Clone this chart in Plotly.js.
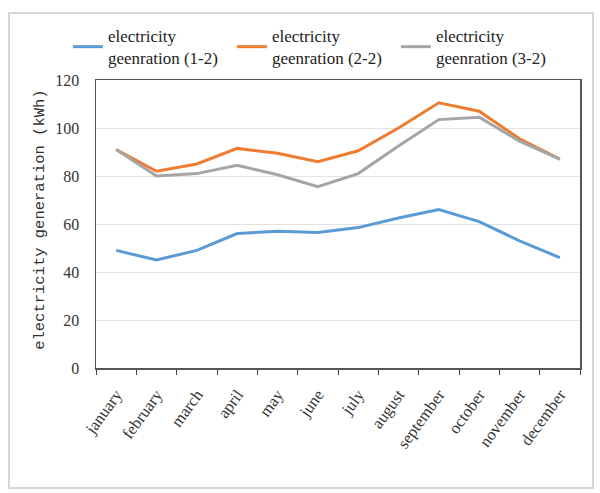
<!DOCTYPE html>
<html>
<head>
<meta charset="utf-8">
<script src="https://cdn.plot.ly/plotly-3.0.1.min.js"></script>
<style>
html,body{margin:0;padding:0;background:#fff;}
#wrap{position:relative;width:600px;height:493px;}
#chart{width:600px;height:493px;}
#frame{position:absolute;left:8px;top:12px;width:582px;height:473px;border:2px solid #d6d6d6;pointer-events:none;}
</style>
</head>
<body>
<div id="wrap"><div id="chart"></div><div id="frame"></div></div>
<script>
const months = ["january","february","march","april","may","june","july","august","september","october","november","december"];
const gen12 = [49, 45, 49, 56, 57, 56.5, 58.5, 62.5, 66, 61, 53, 46];
const gen22 = [91, 82, 85, 91.5, 89.5, 86, 90.5, 100, 110.5, 107, 95.5, 87];
const gen32 = [91, 80, 81, 84.5, 80.5, 75.5, 81, 92.5, 103.5, 104.5, 94.5, 87];
const seriesNames = ["electricity<br>geenration (1-2)", "electricity<br>geenration (2-2)", "electricity<br>geenration (3-2)"];
const yTitle = "electricity generation (kWh)";
const yTicks = [0, 20, 40, 60, 80, 100, 120];

const colors = ["#5B9BD5", "#ED7D31", "#A5A5A5"];
const serif = "Liberation Serif";

const traces = [gen12, gen22, gen32].map((v, i) => ({
  x: months, y: v, type: "scatter", mode: "lines", name: seriesNames[i],
  line: {color: colors[i], width: 3}
}));

const layout = {
  width: 600, height: 493,
  margin: {l: 96, r: 20, t: 80, b: 125},
  paper_bgcolor: "#fff", plot_bgcolor: "#fff",
  font: {family: serif},
  showlegend: true,
  legend: {orientation: "h", x: -0.058, y: 1.215, xanchor: "left", yanchor: "top",
    font: {family: serif, size: 17, color: "#222"}, valign: "middle",
    itemwidth: 30, tracegroupgap: 0, entrywidth: 119, bgcolor: "rgba(0,0,0,0)"},
  xaxis: {type: "category", range: [-0.5, 11.5], tickson: "boundaries", ticks: "outside",
    ticklen: 5, tickcolor: "#444", tickangle: -54, showgrid: false, ticklabelstandoff: 9,
    showline: true, linecolor: "#555", linewidth: 1.5, mirror: true,
    tickfont: {family: serif, size: 16.5, color: "#333"}},
  yaxis: {range: [0, 120], tickvals: yTicks, ticks: "outside", ticklen: 12, tickcolor: "rgba(0,0,0,0)",
    showgrid: true, gridcolor: "#e2e2e2",
    showline: true, linecolor: "#555", linewidth: 1.5, mirror: true, zeroline: false,
    tickfont: {family: serif, size: 16, color: "#333"}},
  annotations: [{text: yTitle, textangle: -90, xref: "paper", yref: "paper",
    x: -0.116, y: 0.514, xanchor: "center", yanchor: "middle", showarrow: false,
    font: {family: "Liberation Mono", size: 15.5, color: "#333"}}]
};

Plotly.newPlot("chart", traces, layout, {displayModeBar: false, staticPlot: true});
</script>
</body>
</html>
